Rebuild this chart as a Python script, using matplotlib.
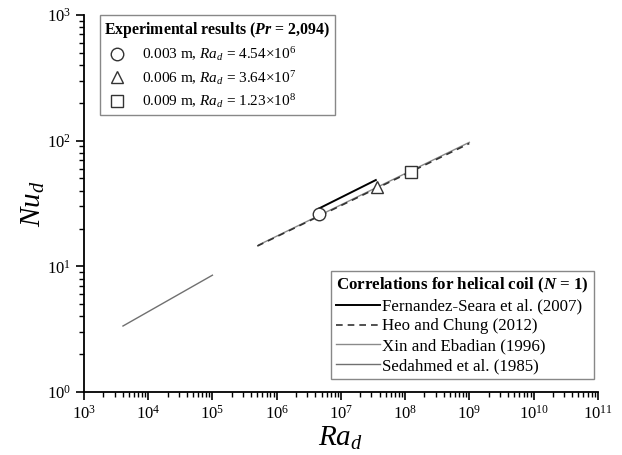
import matplotlib
matplotlib.use("Agg")
import matplotlib.pyplot as plt
import numpy as np

plt.rcParams['font.family'] = ['Liberation Serif', 'DejaVu Serif']
plt.rcParams['mathtext.fontset'] = 'custom'
plt.rcParams['mathtext.rm'] = 'Liberation Serif'
plt.rcParams['mathtext.it'] = 'Liberation Serif:italic'
plt.rcParams['mathtext.bf'] = 'Liberation Serif:bold'
plt.rcParams['mathtext.bfit'] = 'Liberation Serif:italic:bold'

# Experimental points
exp_ra = [4.54e6, 3.64e7, 1.23e8]
exp_nu = [26.1, 42.7, 56.2]
exp_labels = [r"0.003 m, $Ra_d$ = 4.54×10$^6$",
              r"0.006 m, $Ra_d$ = 3.64×10$^7$",
              r"0.009 m, $Ra_d$ = 1.23×10$^8$"]
exp_markers = ['o', '^', 's']

# Correlations
fern_ra = [4.4e6, 3.5e7]
fern_nu = [28.6, 48.6]
heo_ra = [5.0e5, 1.0e9]
heo_nu = [14.5, 95.0]
xin_ra = [5.25e5, 1.0e9]
xin_nu = [14.8, 97.0]
sed_ra = [4.05e3, 1.0e5]
sed_nu = [3.35, 8.5]

fig = plt.figure(figsize=(6.22, 4.55), dpi=100)
ax = fig.add_axes([0.135, 0.1385, 0.826, 0.8285])

l_xin, = ax.plot(xin_ra, xin_nu, color='#8a8a8a', lw=1.0, label='Xin and Ebadian (1996)')
l_heo, = ax.plot(heo_ra, heo_nu, color='#333333', lw=1.2, ls=(0, (4, 3)), label='Heo and Chung (2012)')
l_fern, = ax.plot(fern_ra, fern_nu, color='black', lw=1.4, label='Fernandez-Seara et al. (2007)')
l_sed, = ax.plot(sed_ra, sed_nu, color='#707070', lw=1.0, label='Sedahmed et al. (1985)')

pts = []
for r, n, m, lab in zip(exp_ra, exp_nu, exp_markers, exp_labels):
    p, = ax.plot([r], [n], ls='none', marker=m, markersize=9, markerfacecolor='white',
                 markeredgecolor='#333333', markeredgewidth=1.0, label=lab, zorder=5)
    pts.append(p)

ax.set_xscale('log')
ax.set_yscale('log')
ax.set_xlim(1e3, 1e11)
ax.set_ylim(1e0, 1e3)
ax.xaxis.set_major_locator(matplotlib.ticker.LogLocator(base=10, numticks=20))
ax.xaxis.set_minor_locator(matplotlib.ticker.LogLocator(base=10, subs=np.arange(2, 10), numticks=20))
ax.xaxis.set_minor_formatter(matplotlib.ticker.NullFormatter())
ax.spines['top'].set_visible(False)
ax.spines['right'].set_visible(False)
for s in ['left', 'bottom']:
    ax.spines[s].set_linewidth(1.3)
ax.tick_params(which='major', direction='out', length=6, width=1.2, labelsize=12)
ax.tick_params(which='minor', direction='out', length=3.5, width=1.0)

ax.set_xlabel(r"$Ra_d$", fontsize=21, labelpad=1)
ax.set_ylabel(r"$Nu_d$", fontsize=21, labelpad=0)

leg1 = ax.legend(handles=pts, loc='upper left', bbox_to_anchor=(0.031, 1.0),
                 borderaxespad=0,
                 title=r"Experimental results ($\mathbfit{Pr}$ = 2,094)",
                 title_fontproperties={'weight': 'bold', 'size': 11.4},
                 fontsize=11, frameon=True, fancybox=False, edgecolor='#888888',
                 framealpha=1, handlelength=1.6, handletextpad=0.85, labelspacing=0.36,
                 borderpad=0.3, alignment='left')
leg1.get_frame().set_linewidth(1.0)
ax.add_artist(leg1)

leg2 = ax.legend(handles=[l_fern, l_heo, l_xin, l_sed], loc='lower right',
                 bbox_to_anchor=(0.992, 0.0345), borderaxespad=0,
                 title=r"Correlations for helical coil ($\mathbfit{N}$ = 1)",
                 title_fontproperties={'weight': 'bold', 'size': 12.2},
                 fontsize=12.2, frameon=True, fancybox=False, edgecolor='#888888',
                 framealpha=1, handlelength=2.6, handletextpad=0.15, labelspacing=0.22,
                 borderpad=0.3, alignment='left')
leg2.get_frame().set_linewidth(1.0)

fig.savefig("out.png", dpi=100)
